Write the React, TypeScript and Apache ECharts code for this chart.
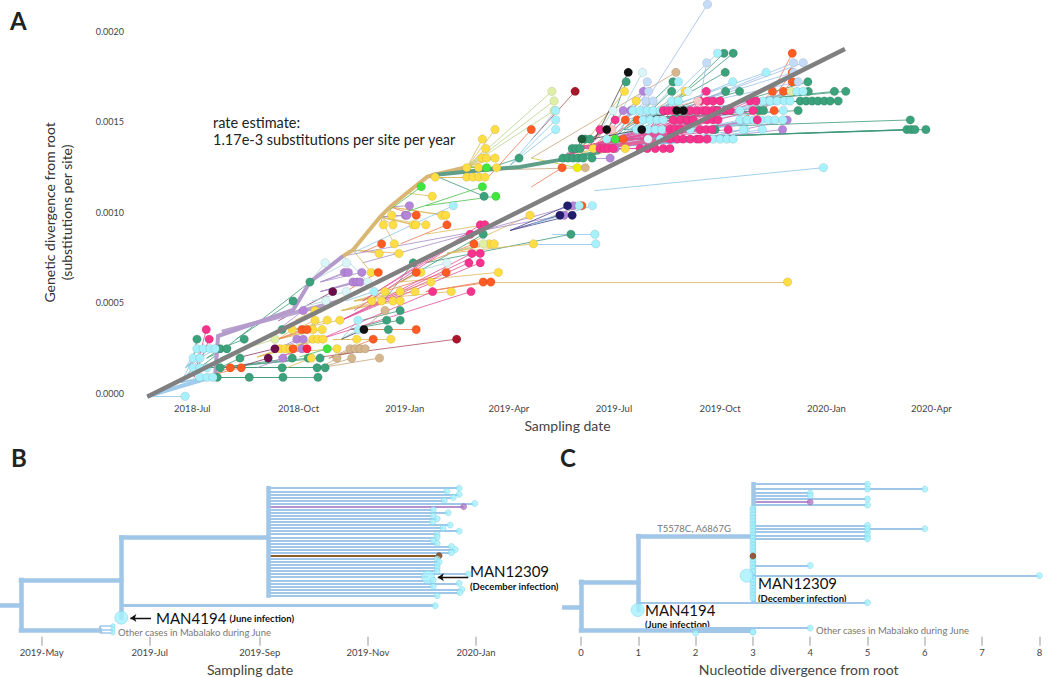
import React, { useEffect, useRef } from 'react';
import * as echarts from 'echarts';

// ---------- Panel A: axis ticks ----------
const aTickValues = [2018.496, 2018.748, 2019.0, 2019.247, 2019.496, 2019.748, 2020.0, 2020.249];
const aTickLabels = ['2018-Jul', '2018-Oct', '2019-Jan', '2019-Apr', '2019-Jul', '2019-Oct', '2020-Jan', '2020-Apr'];

// Panel A rows: [parentDate, parentDiv(1e-4), tipDiv(1e-4), tipDate, tipDate, ...]
const greenRows = [
  [2018.522, 0.88, 0.88, 2018.555, 2018.631, 2018.711, 2018.794],
  [2018.531, 1.41, 1.41, 2018.562, 2018.709, 2018.792, 2018.811],
  [2018.562, 1.41, 1.94, 2018.609, 2018.733, 2018.771, 2018.799],
  [2018.530, 1.94, 2.46, 2018.562, 2018.578],
  [2018.498, 1.94, 2.99, 2018.507],
  [2018.562, 2.46, 2.99, 2018.619],
  [2018.562, 1.94, 3.52, 2018.709],
  [2018.514, 1.41, 6.15, 2018.775],
  [2018.600, 2.99, 5.10, 2018.735],
  [2018.870, 3.52, 4.04, 2018.957, 2018.989],
  [2018.870, 3.52, 3.52, 2018.961],
  [2018.900, 4.04, 4.57, 2018.989],
  [2018.950, 5.10, 7.21, 2019.020],
  [2018.990, 6.15, 8.79, 2019.186],
  [2019.050, 7.21, 8.79, 2019.394],
  [2019.067, 12.07, 10.89, 2019.188],
  [2019.186, 12.34, 13.00, 2019.271],
  [2019.368, 12.90, 13.00, 2019.375, 2019.387, 2019.399, 2019.411, 2019.423, 2019.444],
  [2019.368, 12.90, 13.53, 2019.397, 2019.406, 2019.416],
  [2019.400, 13.20, 14.05, 2019.428, 2019.439],
  [2019.463, 13.34, 17.22, 2019.525, 2019.636],
  [2019.520, 14.58, 17.74, 2019.760],
  [2019.560, 15.11, 16.69, 2019.633, 2019.761, 2019.794],
  [2019.560, 15.11, 15.63, 2019.736, 2019.740, 2019.760, 2019.839, 2019.851, 2019.933],
  [2019.560, 15.11, 15.11, 2019.669],
  [2019.600, 14.58, 14.58, 2019.736],
  [2019.640, 16.16, 18.80, 2019.757, 2019.779],
  [2019.800, 16.16, 17.22, 2019.956],
  [2019.800, 16.16, 16.69, 2019.957, 2020.019, 2020.046],
  [2019.800, 16.16, 16.16, 2019.938, 2019.952, 2019.966, 2019.980, 2019.995, 2020.009, 2020.028],
  [2019.520, 14.58, 15.11, 2020.199],
  [2019.520, 14.05, 14.58, 2020.191, 2020.201, 2020.210, 2020.236],
];
const cyanRows = [
  [2018.389, -0.17, -0.17, 2018.479],
  [2018.470, 0.60, 0.88, 2018.514, 2018.531, 2018.545],
  [2018.470, 0.60, 1.41, 2018.498, 2018.514, 2018.531],
  [2018.470, 0.60, 1.94, 2018.498, 2018.514],
  [2018.480, 1.41, 2.46, 2018.507, 2018.522, 2018.538, 2018.550],
  [2018.850, 3.00, 3.52, 2018.890],
  [2018.850, 3.00, 4.04, 2018.889],
  [2018.860, 5.10, 5.62, 2018.927],
  [2018.880, 7.80, 10.37, 2019.115],
  [2019.250, 12.60, 15.63, 2019.358],
  [2019.250, 12.60, 15.11, 2019.358],
  [2019.250, 12.60, 14.58, 2019.358],
  [2019.300, 9.31, 10.37, 2019.414, 2019.445],
  [2019.300, 8.26, 8.26, 2019.453],
  [2019.350, 8.79, 8.79, 2019.451],
  [2019.480, 13.60, 15.63, 2019.541, 2019.558, 2019.575, 2019.589, 2019.606, 2019.795],
  [2019.480, 13.60, 15.11, 2019.565, 2019.582, 2019.598, 2019.613, 2019.795, 2019.811],
  [2019.480, 13.60, 14.58, 2019.550, 2019.577, 2019.594, 2019.610, 2019.677, 2019.700, 2019.807],
  [2019.440, 13.53, 14.05, 2019.479, 2019.606, 2019.715, 2019.731, 2019.748, 2019.764, 2019.779],
  [2019.700, 15.11, 16.16, 2019.850, 2019.866, 2019.883, 2019.900, 2019.914],
  [2019.700, 14.58, 15.11, 2019.812, 2019.828, 2019.845, 2019.862, 2019.878, 2019.897],
  [2019.700, 14.05, 14.58, 2019.803, 2019.848],
  [2019.700, 15.11, 15.63, 2019.898],
  [2019.700, 15.63, 16.69, 2019.930, 2019.945],
  [2019.600, 15.63, 17.74, 2019.857],
  [2019.560, 15.11, 17.22, 2019.649, 2019.778],
  [2019.600, 15.63, 16.16, 2019.633, 2019.649],
  [2019.600, 15.63, 18.80, 2019.742],
  [2019.450, 11.20, 12.47, 2019.993],
];
const lightBlueRows = [
  [2019.558, 15.63, 21.50, 2019.718],
  [2019.700, 16.16, 18.27, 2019.716, 2019.922, 2019.945],
  [2019.700, 16.16, 17.74, 2019.922],
  [2019.520, 15.11, 17.22, 2019.575, 2019.933],
  [2019.520, 15.11, 16.69, 2019.578],
  [2019.520, 15.11, 16.16, 2019.572, 2019.589],
];
const paleCyanRows = [
  [2018.775, 6.15, 7.21, 2018.811, 2018.862],
  [2018.990, 6.50, 7.21, 2019.100],
  [2018.854, 7.59, 6.15, 2018.912],
  [2018.780, 5.10, 5.62, 2018.861],
  [2018.760, 4.80, 5.10, 2018.813],
  [2019.500, 15.00, 17.74, 2019.564],
  [2019.450, 14.05, 15.63, 2019.494],
  [2019.600, 15.63, 16.69, 2019.672],
  [2019.520, 14.05, 14.05, 2019.577],
];
const pinkRows = [
  [2018.500, 0.88, 3.52, 2018.529],
  [2018.500, 0.88, 2.99, 2018.536],
  [2018.800, 2.99, 5.62, 2019.066, 2019.157],
  [2018.850, 4.04, 7.21, 2019.152, 2019.179],
  [2018.850, 4.04, 7.73, 2019.159, 2019.179],
  [2018.880, 4.57, 8.79, 2019.155],
  [2018.900, 5.10, 9.31, 2019.179, 2019.190],
  [2019.423, 13.53, 13.53, 2019.463, 2019.473, 2019.482, 2019.494, 2019.558, 2019.575, 2019.594, 2019.613, 2019.629],
  [2019.511, 13.72, 14.05, 2019.629, 2019.646, 2019.660, 2019.677, 2019.693, 2019.700, 2019.717],
  [2019.440, 13.72, 14.58, 2019.463, 2019.629, 2019.641, 2019.653, 2019.700, 2019.715, 2019.729, 2019.767],
  [2019.440, 13.72, 15.11, 2019.499, 2019.636, 2019.653, 2019.670, 2019.684, 2019.717, 2019.731, 2019.743, 2019.836],
  [2019.560, 14.00, 15.63, 2019.613, 2019.625, 2019.636, 2019.677, 2019.693, 2019.708, 2019.717, 2019.731, 2019.743, 2019.760, 2019.772, 2019.826],
  [2019.606, 14.00, 16.16, 2019.700, 2019.717, 2019.731, 2019.748, 2019.819, 2019.833],
  [2019.606, 14.00, 16.69, 2019.715],
];
const orangeRows = [
  [2018.540, 1.00, 1.41, 2018.586, 2018.612],
  [2018.700, 2.40, 2.46, 2018.735],
  [2018.700, 2.99, 3.52, 2018.756, 2018.768],
  [2018.880, 3.52, 3.52, 2019.027],
  [2018.860, 2.40, 2.99, 2018.925],
  [2018.860, 5.62, 6.68, 2018.937],
  [2018.950, 5.62, 6.68, 2019.027, 2019.098],
  [2018.900, 7.80, 8.26, 2018.945],
  [2019.050, 7.21, 8.26, 2019.164],
  [2018.965, 10.30, 9.84, 2019.027],
  [2018.990, 8.26, 9.31, 2019.100],
  [2019.050, 5.62, 6.15, 2019.186, 2019.204],
  [2019.300, 11.40, 12.47, 2019.373],
  [2019.200, 12.00, 14.58, 2019.300],
  [2019.300, 9.31, 10.37, 2019.420],
  [2019.440, 13.53, 15.11, 2019.523, 2019.551],
  [2019.440, 13.53, 14.05, 2019.518],
  [2019.850, 15.63, 18.80, 2019.919],
  [2019.850, 15.63, 17.74, 2019.919],
  [2019.850, 15.63, 17.22, 2019.919],
  [2019.800, 15.11, 16.69, 2019.872, 2019.898],
  [2019.800, 15.11, 15.63, 2019.876],
];
const yellowRows = [
  [2018.650, 2.00, 2.46, 2018.704, 2018.716, 2018.728],
  [2018.750, 2.30, 2.46, 2018.839],
  [2018.700, 2.99, 3.52, 2018.733, 2018.782, 2018.804],
  [2018.720, 2.46, 2.99, 2018.782, 2018.794, 2018.806],
  [2018.720, 1.41, 1.94, 2018.778],
  [2018.740, 3.52, 4.04, 2018.787, 2018.816, 2018.846],
  [2018.740, 4.04, 4.57, 2018.787],
  [2018.850, 4.57, 5.10, 2018.922, 2018.945, 2018.972, 2018.989],
  [2018.830, 2.99, 2.99, 2018.886, 2018.967],
  [2018.880, 5.10, 5.62, 2018.953, 2018.989, 2019.024, 2019.110],
  [2018.990, 5.62, 6.15, 2019.062],
  [2018.877, 7.92, 6.68, 2018.920],
  [2018.990, 6.15, 6.68, 2019.038, 2019.222],
  [2018.877, 7.92, 7.73, 2018.939, 2018.986],
  [2018.941, 9.74, 8.26, 2018.975],
  [2019.100, 7.73, 8.26, 2019.200, 2019.212, 2019.305],
  [2018.941, 9.74, 9.31, 2018.949, 2018.972, 2019.020, 2019.026, 2019.050],
  [2018.965, 10.30, 9.84, 2018.969, 2019.088, 2019.097],
  [2019.150, 8.26, 9.84, 2019.297],
  [2019.005, 11.07, 10.89, 2019.065],
  [2019.053, 11.96, 11.95, 2019.072, 2019.147, 2019.162, 2019.176, 2019.190],
  [2019.148, 12.51, 12.47, 2019.147, 2019.175, 2019.218],
  [2019.148, 12.51, 13.00, 2019.183, 2019.194, 2019.214],
  [2019.148, 12.51, 13.53, 2019.192],
  [2019.148, 12.51, 14.05, 2019.184],
  [2019.148, 12.51, 14.58, 2019.214],
  [2019.050, 8.79, 9.31, 2019.189],
  [2019.400, 13.00, 16.69, 2019.521, 2019.665],
  [2019.400, 13.00, 16.16, 2019.549],
  [2019.400, 13.00, 13.53, 2019.447, 2019.523],
  [2019.204, 6.15, 6.15, 2019.908],
];
const purpleRows = [
  [2018.650, 1.41, 1.94, 2018.711],
  [2018.700, 2.00, 2.46, 2018.756],
  [2018.700, 2.46, 2.99, 2018.744, 2018.759],
  [2018.700, 3.52, 4.57, 2018.759],
  [2018.800, 6.15, 6.68, 2018.857, 2018.866, 2018.898],
  [2018.800, 5.62, 6.15, 2018.877, 2018.887, 2018.894],
  [2018.941, 9.74, 9.84, 2019.001, 2019.005],
  [2018.965, 10.30, 10.37, 2019.011],
  [2018.854, 7.59, 9.84, 2019.378],
  [2018.900, 7.21, 10.37, 2019.400],
  [2019.423, 13.00, 13.00, 2019.487],
  [2019.500, 14.05, 16.69, 2019.566],
  [2019.480, 14.05, 15.63, 2019.518, 2019.536],
  [2019.440, 13.53, 13.53, 2019.499],
  [2019.700, 14.05, 15.11, 2019.907],
  [2019.700, 14.05, 14.58, 2019.896],
];
const tanRows = [
  [2018.800, 1.41, 1.94, 2018.839, 2018.874, 2018.940],
  [2018.820, 1.94, 2.46, 2018.870, 2018.882, 2018.894, 2018.906],
  [2018.900, 3.52, 4.57, 2018.953],
  [2019.200, 12.34, 12.47, 2019.428],
  [2019.300, 13.00, 17.74, 2019.643],
];
const maroonRows = [
  [2018.600, 1.41, 1.94, 2018.676],
  [2018.600, 1.94, 2.46, 2018.692],
  [2018.700, 4.00, 5.62, 2018.829],
];
const darkRedRows = [
  [2018.800, 2.00, 2.99, 2019.123],
  [2019.300, 14.00, 16.69, 2019.404],
];
const blackRows = [
  [2018.850, 2.99, 3.52, 2018.903],
  [2019.450, 14.00, 17.74, 2019.530],
  [2019.560, 15.11, 15.63, 2019.645, 2019.661],
  [2019.440, 14.05, 14.58, 2019.479, 2019.562],
];
const navyRows = [
  [2019.250, 9.00, 10.37, 2019.386],
  [2019.250, 9.00, 9.84, 2019.368, 2019.397],
];
const brightGreenRows = [
  [2018.750, 2.00, 2.46, 2018.816],
  [2018.941, 9.74, 11.42, 2019.039],
  [2019.000, 10.00, 11.42, 2019.184],
  [2019.148, 12.51, 12.47, 2019.194],
  [2019.050, 10.37, 10.89, 2019.216],
  [2019.440, 13.53, 14.05, 2019.499],
];
const paleYellowGreenRows = [
  [2018.620, 2.46, 2.99, 2018.692],
  [2019.148, 12.51, 16.69, 2019.349],
  [2019.148, 12.51, 16.16, 2019.354],
  [2019.148, 12.51, 15.63, 2019.354],
  [2019.100, 7.73, 8.26, 2019.186],
  [2019.800, 15.63, 16.69, 2019.916],
];
const redRows = [[2018.700, 2.00, 2.46, 2018.768]];
const palePinkRows = [
  [2019.440, 13.53, 14.58, 2019.491],
  [2019.600, 15.63, 16.16, 2019.695],
];
const limeRows = [[2019.300, 13.00, 12.47, 2019.409]];
const darkGreenRows = [[2019.400, 13.20, 14.05, 2019.420]];

// Backbone (trunk) lineages in panel A
const backboneBlue = [[2018.389, -0.17], [2018.550, 0.95]];
const backbonePurple = [[2018.550, 0.95], [2018.557, 3.16], [2018.735, 4.60], [2018.775, 6.15], [2018.854, 7.59]];
const backbonePurple2 = [[2018.566, 3.40], [2018.846, 5.10]];
const backboneTan = [[2018.854, 7.59], [2018.877, 7.92], [2018.941, 9.74], [2018.965, 10.30], [2019.005, 11.07], [2019.053, 11.96], [2019.067, 12.07], [2019.148, 12.51]];
const backboneTeal = [[2019.067, 12.07], [2019.186, 12.34], [2019.273, 12.51], [2019.368, 12.90], [2019.463, 13.34]];
const backbonePink = [[2019.368, 12.90], [2019.423, 13.61], [2019.511, 13.72], [2019.606, 14.00]];
const regressionLine = [[2018.389, -0.2], [2020.044, 19.03]];

// ---------- Panel B ----------
const bTickValues = [2019.329, 2019.496, 2019.666, 2019.833, 2020.0];
const bTickLabels = ['2019-May', '2019-Jul', '2019-Sep', '2019-Nov', '2020-Jan'];
// thick branches: [fromDate, toDate, row]
const bThickH = [
  [2019.265, 2019.297, 38.3],
  [2019.297, 2019.452, 29.9],
  [2019.297, 2019.419, 46.2],
  [2019.452, 2019.679, 16.1],
];
// verticals: [date, rowFrom, rowTo]
const bThickV = [
  [2019.297, 29.9, 46.2],
  [2019.452, 16.1, 42.2],
  [2019.679, 0, 35],
];
const bCladeNode = 2019.679;
const bTipDates = [
  2019.974, 2019.955, 2019.974, 2019.965, 2019.951, 2019.998, 2019.981, 2019.934, 2019.957, 2019.934,
  2019.940, 2019.933, 2019.960, 2019.949, 2019.974, 2019.940, 2019.940, 2019.934, 2019.940, 2019.962,
  2019.968, 2019.962, 2019.943, 2019.940, 2019.943, 2019.940, 2019.940, 2019.940, 2019.988, 2019.926,
  2019.934, 2019.974, 2019.934, 2019.978, 2019.975, 2019.940,
];
const bPurpleRow = 6;
const bBrownRow = 22;
const bMan12309Row = 29;
const bLongBranch = [2019.452, 2019.937, 38.3];
const bMan4194 = [2019.452, 42.2];
const bJuneNode = 2019.419;
const bJuneTips = [[2019.439, 44.9], [2019.439, 46.0], [2019.439, 47.1]];
const bArrows = [
  [2019.498, 42.3, 2019.466, 42.3],
  [2019.988, 29, 2019.941, 29],
];

// ---------- Panel C ----------
const cTickValues = [0, 1, 2, 3, 4, 5, 6, 7, 8];
const cThickH = [
  [-0.29, 0, 38.9],
  [0, 1, 30.5],
  [0, 3, 46.2],
  [1, 3, 15.6],
];
const cThickV = [
  [0, 30.5, 46.2],
  [1, 15.6, 39.7],
  [3, -1.3, 36.4],
];
// thin branches: [fromDiv, toDiv, row]
const cThin = [
  [3, 5, -1.3], [3, 6, 0.3], [3, 4, 1.6], [3, 4, 2.5], [3, 5, 3.5], [3, 5, 5.5],
  [3, 5, 12.1], [3, 6, 13.2], [3, 5, 14.3], [3, 5, 15.5], [3, 5, 16.5], [3, 4, 25.2], [3, 8, 28.5],
  [1, 5, 37.3], [2, 4, 45.6], [2, 3, 46.9],
];
const cPurple = [3, 4, 4.5];
const cExtraTips = [[5, 0.3], [5, 13.2], [2, 47.2], [3, 46.8]];
const cStackRows = [6.5, 7.6, 8.7, 9.8, 10.9, 12.0, 13.0, 14.1, 15.2, 16.3, 17.4, 18.5, 19.6, 20.7, 22.8, 23.9, 25.0, 26.1, 27.2, 29.4, 30.4, 31.5, 32.6, 33.7, 34.8, 35.9];
const cBrown = [3, 22.1];
const cMan12309 = [2.89, 28.5];
const cMan4194 = [0.99, 39.7];

const TREE = '#a0c6e8';
const TIP = '#a6f1fc';
const TIP_BORDER = '#79cfe6';
const FONT = 'Lato, "Noto Sans", sans-serif';

function pickLabel(values: number[], labels: string[], v: number) {
  const i = values.findIndex((x) => Math.abs(x - v) < 1e-6);
  return i >= 0 ? labels[i] : '';
}

export default function App() {
  const ref = useRef<HTMLDivElement>(null);
  useEffect(() => {
    if (!ref.current) return;
    const chart = echarts.init(ref.current, undefined, { renderer: 'svg' });

    const groupsA = [
      { rows: greenRows, color: '#3ba27c', line: '#3e9a78' },
      { rows: tanRows, color: '#d5b68d', line: '#c7a57a' },
      { rows: yellowRows, color: '#ffdd45', line: '#dcb95a' },
      { rows: orangeRows, color: '#ff5b22', line: '#ef7a50' },
      { rows: purpleRows, color: '#b585d9', line: '#a88bc8' },
      { rows: maroonRows, color: '#6c0f4c', line: '#8a3a6a' },
      { rows: darkRedRows, color: '#a6172b', line: '#b0505e' },
      { rows: navyRows, color: '#211d6d', line: '#4a4690' },
      { rows: brightGreenRows, color: '#3ee63e', line: '#4cbf4c' },
      { rows: paleYellowGreenRows, color: '#dff0a6', line: '#bcd08a' },
      { rows: redRows, color: '#ff1f3f', line: '#ff6070' },
      { rows: limeRows, color: '#eeee00', line: '#c8c840' },
      { rows: darkGreenRows, color: '#1e5d3c', line: '#356b50' },
      { rows: paleCyanRows, color: '#daf6f8', line: '#a9d3df' },
      { rows: lightBlueRows, color: '#c4dcf8', line: '#9dbde8' },
      { rows: cyanRows, color: TIP, line: '#8cc4e6' },
      { rows: pinkRows, color: '#f8338e', line: '#e2509a' },
      { rows: palePinkRows, color: '#ffc6c6', line: '#e8a0a0' },
      { rows: blackRows, color: '#111111', line: '#444444' },
    ];

    const series: any[] = [];
    groupsA.forEach((g) => {
      series.push({
        type: 'lines', coordinateSystem: 'cartesian2d', xAxisIndex: 0, yAxisIndex: 0,
        silent: true, z: 1, clip: false,
        lineStyle: { color: g.line, width: 1, opacity: 0.8 },
        data: g.rows.flatMap((r) => r.slice(3).map((t) => ({ coords: [[r[0], r[1]], [t, r[2]]] }))),
      });
    });
    const backbones = [
      { pts: backboneBlue, color: '#9fcbec' },
      { pts: backbonePurple2, color: '#b9a3cf' },
      { pts: backbonePurple, color: '#b39bcb' },
      { pts: backboneTan, color: '#d8b774' },
      { pts: backboneTeal, color: '#5f9f89' },
      { pts: backbonePink, color: '#e2649e' },
    ];
    series.push({
      type: 'lines', coordinateSystem: 'cartesian2d', xAxisIndex: 0, yAxisIndex: 0,
      polyline: true, silent: true, z: 2, clip: false,
      data: backbones.map((b) => ({ coords: b.pts, lineStyle: { color: b.color, width: 4, opacity: 1 } })),
    });
    groupsA.forEach((g) => {
      series.push({
        type: 'scatter', xAxisIndex: 0, yAxisIndex: 0, symbolSize: 8.5, z: 3, clip: false, silent: true,
        itemStyle: { color: g.color, borderColor: 'rgba(0,0,0,0.18)', borderWidth: 0.5, opacity: 1 },
        data: g.rows.flatMap((r) => r.slice(3).map((t) => [t, r[2]])),
      });
    });
    series.push({
      type: 'line', xAxisIndex: 0, yAxisIndex: 0, data: regressionLine, symbol: 'none', z: 5, clip: false,
      silent: true, lineStyle: { color: '#808080', width: 4.5 },
    });

    // ---- Panel B ----
    const bThickCoords = [
      ...bThickH.map((h) => ({ coords: [[h[0], h[2]], [h[1], h[2]]] })),
      ...bThickV.map((v) => ({ coords: [[v[0], v[1]], [v[0], v[2]]] })),
    ];
    series.push({
      type: 'lines', coordinateSystem: 'cartesian2d', xAxisIndex: 1, yAxisIndex: 1, silent: true, z: 2,
      lineStyle: { color: TREE, width: 4.5, opacity: 1, cap: 'square' }, data: bThickCoords,
    });
    const bRowLines = bTipDates.map((d, i) => {
      const color = i === bPurpleRow ? '#b592cf' : i === bBrownRow ? '#8b5a2b' : TREE;
      return { coords: [[bCladeNode, i], [d, i]], lineStyle: { color, width: 2, opacity: 1 } };
    });
    series.push({
      type: 'lines', coordinateSystem: 'cartesian2d', xAxisIndex: 1, yAxisIndex: 1, silent: true, z: 1,
      data: [
        ...bRowLines,
        { coords: [[bLongBranch[0], bLongBranch[2]], [bLongBranch[1], bLongBranch[2]]], lineStyle: { color: TREE, width: 3, opacity: 1 } },
        { coords: [[bJuneNode, bJuneTips[0][1]], [bJuneNode, bJuneTips[2][1]]], lineStyle: { color: TREE, width: 2, opacity: 1 } },
        ...bJuneTips.map((t) => ({ coords: [[bJuneNode, t[1]], [t[0], t[1]]], lineStyle: { color: TREE, width: 1.5, opacity: 1 } })),
      ],
    });
    const bTipData = bTipDates.map((d, i) => {
      if (i === bPurpleRow) return { value: [d, i], itemStyle: { color: '#b07cc6', borderColor: '#9a66b0' } };
      if (i === bBrownRow) return { value: [d, i], itemStyle: { color: '#7a3a10', borderColor: '#5e2a08' } };
      if (i === bMan12309Row) return { value: [d, i], symbolSize: 13 };
      return { value: [d, i] };
    });
    series.push({
      type: 'scatter', xAxisIndex: 1, yAxisIndex: 1, symbolSize: 6, z: 3, silent: true,
      itemStyle: { color: TIP, borderColor: TIP_BORDER, borderWidth: 0.6 },
      data: [
        ...bTipData,
        [bLongBranch[1], bLongBranch[2]],
        ...bJuneTips.map((t) => ({ value: t, symbolSize: 4.5 })),
        { value: bMan4194, symbolSize: 13 },
      ],
    });
    series.push({
      type: 'lines', coordinateSystem: 'cartesian2d', xAxisIndex: 1, yAxisIndex: 1, silent: true, z: 4,
      symbol: ['none', 'arrow'], symbolSize: 6,
      lineStyle: { color: '#111', width: 1.3, opacity: 1 },
      data: bArrows.map((a) => ({ coords: [[a[0], a[1]], [a[2], a[3]]] })),
    });

    // ---- Panel C ----
    series.push({
      type: 'lines', coordinateSystem: 'cartesian2d', xAxisIndex: 2, yAxisIndex: 2, silent: true, z: 2,
      lineStyle: { color: TREE, width: 4.5, opacity: 1, cap: 'square' },
      data: [
        ...cThickH.map((h) => ({ coords: [[h[0], h[2]], [h[1], h[2]]] })),
        ...cThickV.map((v) => ({ coords: [[v[0], v[1]], [v[0], v[2]]] })),
      ],
    });
    series.push({
      type: 'lines', coordinateSystem: 'cartesian2d', xAxisIndex: 2, yAxisIndex: 2, silent: true, z: 1,
      data: [
        ...cThin.map((b) => ({ coords: [[b[0], b[2]], [b[1], b[2]]], lineStyle: { color: TREE, width: 2, opacity: 1 } })),
        { coords: [[cPurple[0], cPurple[2]], [cPurple[1], cPurple[2]]], lineStyle: { color: '#b592cf', width: 2, opacity: 1 } },
      ],
    });
    series.push({
      type: 'scatter', xAxisIndex: 2, yAxisIndex: 2, symbolSize: 6, z: 3, silent: true,
      itemStyle: { color: TIP, borderColor: TIP_BORDER, borderWidth: 0.6 },
      data: [
        ...cThin.map((b) => [b[1], b[2]]),
        ...cExtraTips,
        ...cStackRows.map((r) => [3, r]),
        { value: [cPurple[1], cPurple[2]], itemStyle: { color: '#b07cc6', borderColor: '#9a66b0' } },
        { value: cBrown, itemStyle: { color: '#8b3a0e', borderColor: '#6a2a08' } },
        { value: cMan12309, symbolSize: 13 },
        { value: cMan4194, symbolSize: 13 },
      ],
    });

    const tickLabel = { fontSize: 9.5, color: '#444', fontFamily: FONT };
    const option: any = {
      animation: false,
      backgroundColor: '#ffffff',
      textStyle: { fontFamily: FONT },
      grid: [
        { left: 135, top: 31.5, width: 865, height: 361.7, outerBoundsMode: 'none' },
        { left: 0, top: 472.9, width: 500, height: 163.8, outerBoundsMode: 'none' },
        { left: 552.35, top: 472.9, width: 492.78, height: 163.8, outerBoundsMode: 'none' },
      ],
      xAxis: [
        {
          gridIndex: 0, type: 'value', min: 2018.360, max: 2020.4118, position: 'bottom',
          axisLine: { show: false, onZero: false }, axisTick: { show: false }, splitLine: { show: false },
          axisLabel: { ...tickLabel, margin: 10, customValues: aTickValues, formatter: (v: number) => pickLabel(aTickValues, aTickLabels, v) },
          name: 'Sampling date', nameLocation: 'middle', nameGap: 24,
          nameTextStyle: { fontSize: 14, color: '#444', fontFamily: FONT },
        },
        {
          gridIndex: 1, type: 'value', min: 2019.2646, max: 2020.0371, position: 'bottom',
          axisLine: { show: false, onZero: false }, splitLine: { show: false },
          axisTick: { show: true, customValues: bTickValues, length: 9, lineStyle: { color: '#cccccc', width: 2 } },
          axisLabel: { ...tickLabel, margin: 11, customValues: bTickValues, formatter: (v: number) => pickLabel(bTickValues, bTickLabels, v) },
          name: 'Sampling date', nameLocation: 'middle', nameGap: 26,
          nameTextStyle: { fontSize: 14, color: '#444', fontFamily: FONT },
        },
        {
          gridIndex: 2, type: 'value', min: -0.5, max: 8.1, position: 'bottom',
          axisLine: { show: false, onZero: false }, splitLine: { show: false },
          axisTick: { show: true, customValues: cTickValues, length: 9, lineStyle: { color: '#cccccc', width: 2 } },
          axisLabel: { ...tickLabel, margin: 11, customValues: cTickValues, formatter: (v: number) => String(Math.round(v)) },
          name: 'Nucleotide divergence from root', nameLocation: 'middle', nameGap: 26,
          nameTextStyle: { fontSize: 14, color: '#444', fontFamily: FONT },
        },
      ],
      yAxis: [
        {
          gridIndex: 0, type: 'value', min: 0, max: 20, interval: 5,
          axisLine: { show: false }, axisTick: { show: false }, splitLine: { show: false },
          axisLabel: { fontSize: 9, color: '#444', fontFamily: FONT, margin: 11, formatter: (v: number) => (v / 10000).toFixed(4) },
          name: 'Genetic divergence from root\n(substitutions per site)', nameLocation: 'middle', nameGap: 60,
          nameTextStyle: { fontSize: 14, lineHeight: 17, color: '#333', fontFamily: FONT },
        },
        { gridIndex: 1, type: 'value', inverse: true, min: -5, max: 48.4, show: false },
        { gridIndex: 2, type: 'value', inverse: true, min: -5, max: 48.4, show: false },
      ],
      graphic: [
        { type: 'text', x: 10, y: 20, style: { text: 'A', fontSize: 24, fontWeight: 'bold', fontFamily: FONT, fill: '#222', verticalAlign: 'middle' } },
        { type: 'text', x: 11, y: 457, style: { text: 'B', fontSize: 24, fontWeight: 'bold', fontFamily: FONT, fill: '#222', verticalAlign: 'middle' } },
        { type: 'text', x: 560, y: 457, style: { text: 'C', fontSize: 24, fontWeight: 'bold', fontFamily: FONT, fill: '#222', verticalAlign: 'middle' } },
        { type: 'text', x: 213, y: 122, style: { text: 'rate estimate:', fontSize: 14.5, fontFamily: FONT, fill: '#222', verticalAlign: 'middle' } },
        { type: 'text', x: 213, y: 139, style: { text: '1.17e-3 substitutions per site per year', fontSize: 14.5, fontFamily: FONT, fill: '#222', verticalAlign: 'middle' } },
        {
          type: 'text', x: 156, y: 618, z: 10,
          style: {
            text: '{a|MAN4194} {b|(June infection)}', verticalAlign: 'middle', fontFamily: FONT,
            rich: { a: { fontSize: 15, fontFamily: FONT, fill: '#111' }, b: { fontSize: 9.5, fontWeight: 'bold', fontFamily: FONT, fill: '#111' } },
          },
        },
        { type: 'text', x: 118, y: 632, style: { text: 'Other cases in Mabalako during June', fontSize: 9.5, fontFamily: FONT, fill: '#777', verticalAlign: 'middle' } },
        { type: 'text', x: 470, y: 570.5, style: { text: 'MAN12309', fontSize: 15, fontFamily: FONT, fill: '#111', verticalAlign: 'middle' } },
        { type: 'text', x: 470, y: 586.5, style: { text: '(December infection)', fontSize: 9.5, fontWeight: 'bold', fontFamily: FONT, fill: '#111', verticalAlign: 'middle' } },
        { type: 'text', x: 694, y: 528, style: { text: 'T5578C, A6867G', fontSize: 9.5, fontFamily: FONT, fill: '#777', align: 'center', verticalAlign: 'middle' } },
        { type: 'text', x: 758, y: 583, style: { text: 'MAN12309', fontSize: 15, fontFamily: FONT, fill: '#111', verticalAlign: 'middle' } },
        { type: 'text', x: 758, y: 598, style: { text: '(December infection)', fontSize: 9.5, fontWeight: 'bold', fontFamily: FONT, fill: '#111', verticalAlign: 'middle' } },
        { type: 'text', x: 645, y: 609.5, style: { text: 'MAN4194', fontSize: 15, fontFamily: FONT, fill: '#111', verticalAlign: 'middle' } },
        { type: 'text', x: 645, y: 624.5, style: { text: '(June infection)', fontSize: 9.5, fontWeight: 'bold', fontFamily: FONT, fill: '#111', verticalAlign: 'middle' } },
        { type: 'text', x: 816, y: 630, style: { text: 'Other cases in Mabalako during June', fontSize: 9.5, fontFamily: FONT, fill: '#777', verticalAlign: 'middle' } },
      ],
      series,
    };
    chart.setOption(option);
    return () => chart.dispose();
  }, []);

  return (
    <div
      ref={ref}
      style={{ position: 'fixed', left: 0, top: 0, width: 1050, height: 677, background: '#fff' }}
    />
  );
}
